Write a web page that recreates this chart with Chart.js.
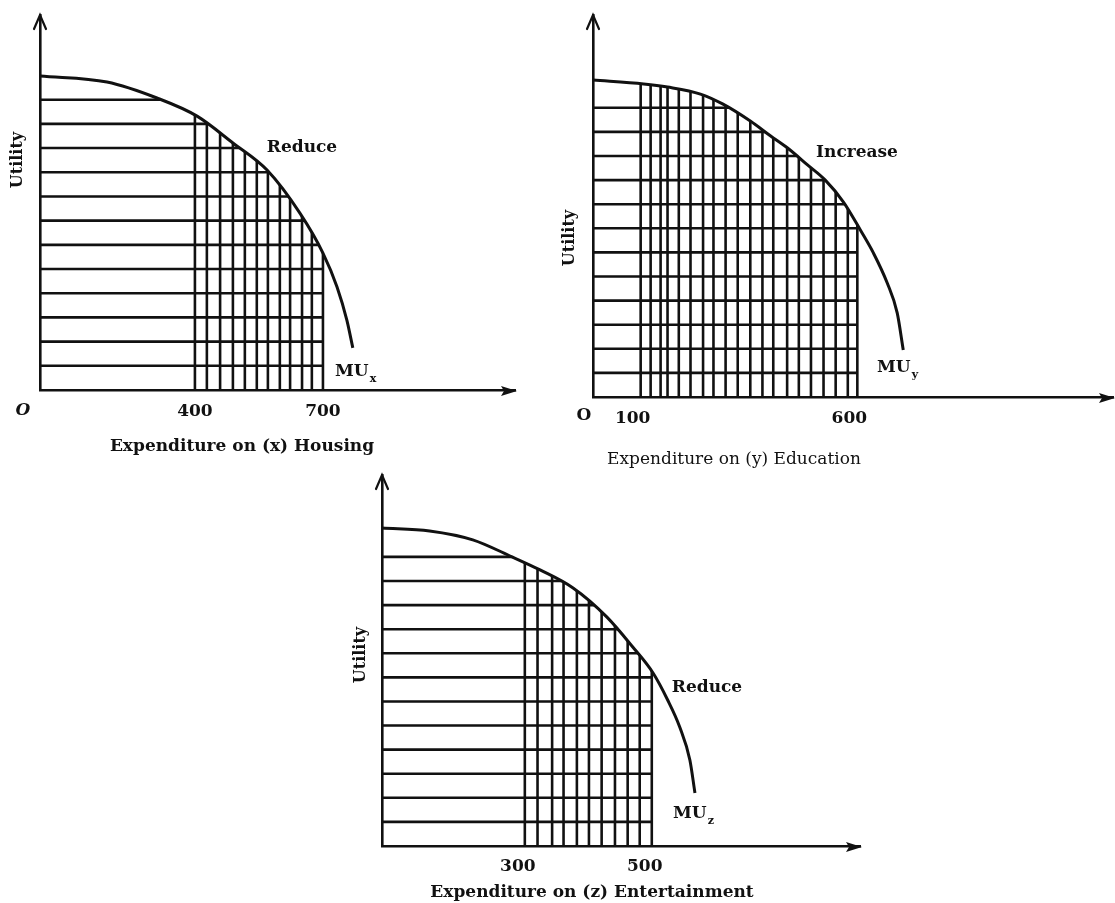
<!DOCTYPE html>
<html>
<head>
<meta charset="utf-8">
<script src="https://cdn.jsdelivr.net/npm/chart.js@4.4.1/dist/chart.umd.min.js"></script>
<style>
  html, body { margin: 0; padding: 0; background: #ffffff; }
  #wrap { position: relative; width: 1115px; height: 903px; overflow: hidden; background: #fff; }
  #wrap canvas { position: absolute; left: 0; top: 0; }
</style>
</head>
<body>
<div id="wrap">
  <canvas id="c1" width="1115" height="903"></canvas>
  <canvas id="c2" width="1115" height="903"></canvas>
  <canvas id="c3" width="1115" height="903"></canvas>
</div>
<script>
// ---------- DATA ----------
// Panel 1: Expenditure on (x) Housing
const housingCurveX   = [37, 194, 311, 405, 489, 569, 646, 700, 733, 756, 770];
const housingCurveMU  = [12.98, 12.73, 12.07, 11.32, 10.21, 9.09, 7.31, 5.66, 4.26, 2.89, 1.74];
const housingLevels   = [1, 2, 3, 4, 5, 6, 7, 8, 9, 10, 11, 12];
const housingVerticals = [400, 428, 459, 489, 517, 545, 571, 599, 623, 651, 674, 700];
const housingTicks    = [400, 700];

// Panel 2: Expenditure on (y) Education
const educationCurveX  = [-10, 107, 162, 238, 289, 353, 400, 439, 485, 526, 568, 607, 637, 669, 692, 706];
const educationCurveMU = [13.15, 12.99, 12.86, 12.57, 12.16, 11.45, 10.83, 10.33, 9.63, 9.0, 8.09, 6.93, 5.98, 4.73, 3.49, 1.95];
const educationLevels  = [1, 2, 3, 4, 5, 6, 7, 8, 9, 10, 11, 12];
const educationVerticals = [100, 123, 146, 162, 188, 215, 244, 268, 296, 324, 353, 381, 406, 438, 465, 493, 522, 550, 578, 600];
const educationTicks   = [100, 600];

// Panel 3: Expenditure on (z) Entertainment
const entertainmentCurveX  = [75, 150, 218, 280, 324, 376, 429, 470, 502, 525, 544, 560, 568];
const entertainmentCurveMU = [13.2, 13.08, 12.71, 12.0, 11.46, 10.71, 9.51, 8.26, 7.18, 6.06, 4.94, 3.57, 2.2];
const entertainmentLevels  = [1, 2, 3, 4, 5, 6, 7, 8, 9, 10, 11, 12];
const entertainmentVerticals = [300, 320, 343, 361, 382, 401, 421, 442, 462, 481, 500];
const entertainmentTicks   = [300, 500];

// ---------- LAYOUT / STYLE ----------
const INK = '#111111';
const SERIF = '"DejaVu Serif", "Liberation Serif", serif';
const AXIS_H = 40;

const panels = [
  { canvas: 'c1', area: { left: 40, top: 15, right: 515, bottom: 390 }, xMin: 37, xMax: 1150, yMax: 15.5,
    tickPadding: 11, labelOffset: 0,
    curveX: housingCurveX, curveMU: housingCurveMU, levels: housingLevels, verticals: housingVerticals, ticks: housingTicks,
    texts: [
      { t: 'Utility', x: 18, y: 160, font: 'bold 16px ' + SERIF, rot: -Math.PI / 2 },
      { t: 'Reduce', x: 302, y: 148, font: 'bold 17px ' + SERIF },
      { t: 'MU', sub: 'x', x: 335, y: 372, align: 'left', font: 'bold 17px ' + SERIF, subFont: 'bold 11px ' + SERIF },
      { t: 'O', x: 23, y: 411, font: 'italic bold 17px ' + SERIF },
      { t: 'Expenditure on (x) Housing', x: 242, y: 447, font: 'bold 17px ' + SERIF }
    ] },
  { canvas: 'c2', area: { left: 593, top: 15, right: 1113, bottom: 397 }, xMin: -10, xMax: 1190, yMax: 15.85,
    tickPadding: 11, labelOffset: -8,
    curveX: educationCurveX, curveMU: educationCurveMU, levels: educationLevels, verticals: educationVerticals, ticks: educationTicks,
    texts: [
      { t: 'Utility', x: 570, y: 238, font: 'bold 16px ' + SERIF, rot: -Math.PI / 2 },
      { t: 'Increase', x: 857, y: 153, font: 'bold 17px ' + SERIF },
      { t: 'MU', sub: 'y', x: 877, y: 368, align: 'left', font: 'bold 17px ' + SERIF, subFont: 'bold 11px ' + SERIF },
      { t: 'O', x: 584, y: 416, font: 'bold 17px ' + SERIF },
      { t: 'Expenditure on (y) Education', x: 734, y: 460, font: '17px ' + SERIF }
    ] },
  { canvas: 'c3', area: { left: 382, top: 475, right: 860, bottom: 846 }, xMin: 75, xMax: 828, yMax: 15.4,
    tickPadding: 10, labelOffset: -7,
    curveX: entertainmentCurveX, curveMU: entertainmentCurveMU, levels: entertainmentLevels, verticals: entertainmentVerticals, ticks: entertainmentTicks,
    texts: [
      { t: 'Utility', x: 361, y: 655, font: 'bold 16px ' + SERIF, rot: -Math.PI / 2 },
      { t: 'Reduce', x: 707, y: 688, font: 'bold 17px ' + SERIF },
      { t: 'MU', sub: 'z', x: 673, y: 814, align: 'left', font: 'bold 17px ' + SERIF, subFont: 'bold 11px ' + SERIF },
      { t: 'Expenditure on (z) Entertainment', x: 592, y: 893, font: 'bold 17px ' + SERIF }
    ] }
];

// Clip the hatching lines to the region under the MU curve (dataset 0)
const underCurveClip = {
  id: 'underCurveClip',
  beforeDatasetDraw(chart, args) {
    const ds = chart.data.datasets[args.index];
    if (!ds.hatch) return;
    const meta = chart.getDatasetMeta(0);
    const area = chart.chartArea;
    if (meta.dataset && meta.dataset.updateControlPoints) meta.dataset.updateControlPoints(area, 'x');
    const pts = meta.data;
    const ctx = chart.ctx;
    ctx.save();
    ctx.beginPath();
    ctx.moveTo(pts[0].x - 4, area.bottom + 4);
    ctx.lineTo(pts[0].x - 4, pts[0].y);
    ctx.lineTo(pts[0].x, pts[0].y);
    for (let i = 1; i < pts.length; i++) {
      const p = pts[i - 1], q = pts[i];
      if (p.cp2x !== undefined && q.cp1x !== undefined) ctx.bezierCurveTo(p.cp2x, p.cp2y, q.cp1x, q.cp1y, q.x, q.y);
      else ctx.lineTo(q.x, q.y);
    }
    ctx.lineTo(pts[pts.length - 1].x, area.bottom + 4);
    ctx.closePath();
    ctx.clip();
  },
  afterDatasetDraw(chart, args) {
    if (chart.data.datasets[args.index].hatch) chart.ctx.restore();
  }
};

function makeDecor(panel) {
  return {
    id: 'decor',
    afterDraw(chart) {
      const ctx = chart.ctx;
      const a = chart.chartArea;
      ctx.save();
      ctx.strokeStyle = INK;
      ctx.fillStyle = INK;
      ctx.lineWidth = 2.2;
      ctx.lineCap = 'round';
      // y-axis arrow head (open)
      ctx.beginPath();
      ctx.moveTo(a.left - 6, a.top + 14);
      ctx.lineTo(a.left, a.top);
      ctx.lineTo(a.left + 6, a.top + 14);
      ctx.stroke();
      // x-axis arrow head (filled)
      ctx.beginPath();
      ctx.moveTo(a.right + 2, a.bottom + 1);
      ctx.lineTo(a.right - 14, a.bottom - 4);
      ctx.lineTo(a.right - 11, a.bottom + 1);
      ctx.lineTo(a.right - 14, a.bottom + 6);
      ctx.closePath();
      ctx.fill();
      // texts
      panel.texts.forEach(it => {
        ctx.save();
        ctx.font = it.font;
        ctx.textAlign = it.align || 'center';
        ctx.textBaseline = 'middle';
        ctx.translate(it.x, it.y);
        if (it.rot) ctx.rotate(it.rot);
        ctx.fillText(it.t, 0, 0);
        if (it.sub) {
          const w = ctx.measureText(it.t).width;
          ctx.font = it.subFont;
          ctx.textAlign = 'left';
          ctx.fillText(it.sub, w + 1, 7);
        }
        ctx.restore();
      });
      ctx.restore();
    }
  };
}

function buildChart(panel) {
  const curve = panel.curveX.map((x, i) => ({ x: x, y: panel.curveMU[i] }));
  const right = panel.verticals[panel.verticals.length - 1];
  const hData = [];
  panel.levels.forEach(l => { hData.push({ x: panel.xMin, y: l }, { x: right, y: l }, { x: right, y: null }); });
  const vData = [];
  panel.verticals.forEach(v => { vData.push({ x: v, y: 0 }, { x: v, y: panel.yMax }, { x: v, y: null }); });

  const W = 1115, H = 903;
  return new Chart(document.getElementById(panel.canvas), {
    type: 'line',
    data: {
      datasets: [
        { label: 'MU', data: curve, borderColor: INK, borderWidth: 3, pointRadius: 0,
          cubicInterpolationMode: 'monotone', fill: false },
        { label: 'utility units', hatch: true, data: hData, borderColor: INK, borderWidth: 2.6,
          pointRadius: 0, tension: 0, spanGaps: false, fill: false },
        { label: 'expenditure units', hatch: true, data: vData, borderColor: INK, borderWidth: 2.6,
          pointRadius: 0, tension: 0, spanGaps: false, fill: false }
      ]
    },
    options: {
      responsive: false,
      animation: false,
      events: [],
      layout: { padding: { left: panel.area.left, top: panel.area.top, right: W - panel.area.right, bottom: H - panel.area.bottom - AXIS_H } },
      plugins: { legend: { display: false }, tooltip: { enabled: false }, title: { display: false } },
      scales: {
        x: {
          type: 'linear', position: 'bottom', min: panel.xMin, max: panel.xMax,
          grid: { display: false, drawTicks: false },
          border: { display: true, color: INK, width: 2.4 },
          afterBuildTicks: s => { s.ticks = panel.ticks.map(v => ({ value: v })); },
          afterFit: s => { s.height = AXIS_H; },
          ticks: { display: true, padding: panel.tickPadding, labelOffset: panel.labelOffset, color: INK, maxRotation: 0,
            font: { family: SERIF, weight: 'bold', size: 17 }, callback: v => String(v) }
        },
        y: {
          type: 'linear', position: 'left', min: 0, max: panel.yMax,
          grid: { display: false, drawTicks: false },
          border: { display: true, color: INK, width: 2.6 },
          ticks: { display: false },
          afterFit: s => { s.width = 0; }
        }
      }
    },
    plugins: [underCurveClip, makeDecor(panel)]
  });
}

panels.forEach(buildChart);
</script>
</body>
</html>
